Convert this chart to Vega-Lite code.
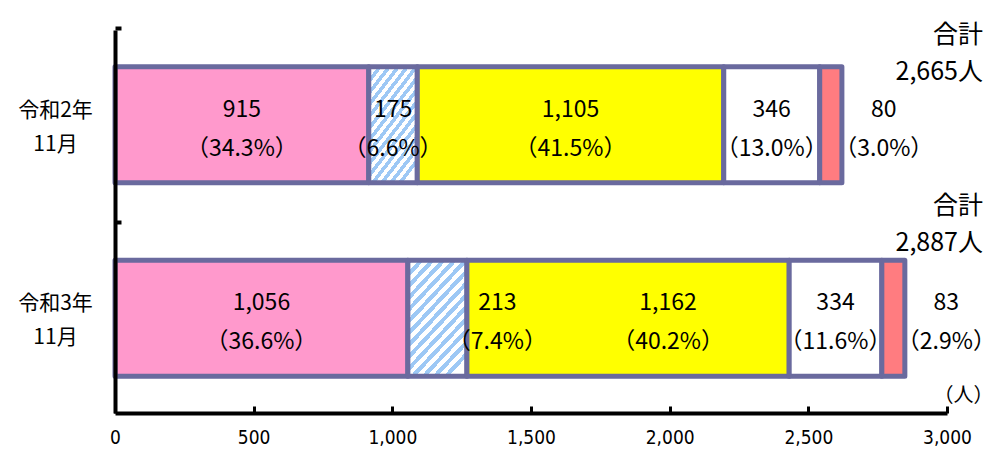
{
  "$schema": "https://vega.github.io/schema/vega-lite/v6.json",
  "autosize": {"type": "none"},
  "width": 832,
  "height": 383,
  "padding": {"left": 115, "top": 30, "right": 37, "bottom": 38},
  "background": "#ffffff",
  "config": {
    "view": {"stroke": null},
    "font": "Noto Sans CJK JP"
  },
  "datasets": {
    "seg": [
      {"row": "令和2年|11月", "cat": "a", "ord": 1, "v": 915, "pct": 34.3},
      {"row": "令和2年|11月", "cat": "b", "ord": 2, "v": 175, "pct": 6.6},
      {"row": "令和2年|11月", "cat": "c", "ord": 3, "v": 1105, "pct": 41.5},
      {"row": "令和2年|11月", "cat": "d", "ord": 4, "v": 346, "pct": 13.0},
      {"row": "令和2年|11月", "cat": "e", "ord": 5, "v": 80, "pct": 3.0},
      {"row": "令和3年|11月", "cat": "a", "ord": 1, "v": 1056, "pct": 36.6},
      {"row": "令和3年|11月", "cat": "b", "ord": 2, "v": 213, "pct": 7.4},
      {"row": "令和3年|11月", "cat": "c", "ord": 3, "v": 1162, "pct": 40.2},
      {"row": "令和3年|11月", "cat": "d", "ord": 4, "v": 334, "pct": 11.6},
      {"row": "令和3年|11月", "cat": "e", "ord": 5, "v": 83, "pct": 2.9}
    ],
    "tot": [
      {"row": "令和2年|11月", "total": 2665},
      {"row": "令和3年|11月", "total": 2887}
    ]
  },
  "layer": [
    {
      "data": {"name": "seg"},
      "transform": [
        {"stack": "v", "groupby": ["row"], "sort": [{"field": "ord"}], "as": ["x0", "x1"]}
      ],
      "mark": {"type": "bar", "stroke": "#6A6A9E", "strokeWidth": 5, "strokeJoin": "round"},
      "encoding": {
        "y": {
          "field": "row", "type": "nominal", "sort": null,
          "scale": {"paddingInner": 0.4, "paddingOuter": 0.19},
          "axis": {
            "title": null,
            "zindex": 1,
            "domainColor": "#000000", "domainWidth": 4,
            "tickColor": "#000000", "tickWidth": 4, "tickSize": -6, "tickBand": "center",
            "tickOffset": -96.5, "labelOffset": 82,
            "labelExpr": "split(datum.label, '|')",
            "labelFont": "Noto Sans CJK JP", "labelFontSize": 21, "labelColor": "#000000",
            "labelAlign": "center", "labelBaseline": "middle", "labelLineHeight": 34,
            "labelPadding": 66
          }
        },
        "x": {
          "field": "x0", "type": "quantitative",
          "scale": {"domain": [0, 3000], "nice": false, "zero": true},
          "axis": {
            "zindex": 1,
            "values": [0, 500, 1000, 1500, 2000, 2500, 3000],
            "format": ",d",
            "grid": false,
            "domainColor": "#000000", "domainWidth": 4,
            "tickColor": "#000000", "tickWidth": 3, "tickSize": -7,
            "labelFont": "Liberation Sans Narrow, DejaVu Sans Condensed, sans-serif",
            "labelFontSize": 19, "labelColor": "#000000", "labelPadding": 22,
            "labelFlush": false,
            "title": "（人）",
            "titleFont": "Noto Sans CJK JP", "titleFontSize": 20, "titleFontWeight": "normal",
            "titleColor": "#000000", "titleAlign": "left", "titleBaseline": "middle",
            "titleX": 818, "titleY": -18
          }
        },
        "x2": {"field": "x1"},
        "fill": {
          "condition": {
            "test": "datum.cat === 'b'",
            "value": {
              "gradient": "linear", "x1": 0, "y1": 0, "x2": 0.6, "y2": 1.1,
              "stops": [
                {"offset": 0, "color": "#9DC8F5"}, {"offset": 0.0357, "color": "#9DC8F5"}, {"offset": 0.0357, "color": "#ffffff"}, {"offset": 0.0714, "color": "#ffffff"},
                {"offset": 0.0714, "color": "#9DC8F5"}, {"offset": 0.1071, "color": "#9DC8F5"}, {"offset": 0.1071, "color": "#ffffff"}, {"offset": 0.1429, "color": "#ffffff"},
                {"offset": 0.1429, "color": "#9DC8F5"}, {"offset": 0.1786, "color": "#9DC8F5"}, {"offset": 0.1786, "color": "#ffffff"}, {"offset": 0.2143, "color": "#ffffff"},
                {"offset": 0.2143, "color": "#9DC8F5"}, {"offset": 0.25, "color": "#9DC8F5"}, {"offset": 0.25, "color": "#ffffff"}, {"offset": 0.2857, "color": "#ffffff"},
                {"offset": 0.2857, "color": "#9DC8F5"}, {"offset": 0.3214, "color": "#9DC8F5"}, {"offset": 0.3214, "color": "#ffffff"}, {"offset": 0.3571, "color": "#ffffff"},
                {"offset": 0.3571, "color": "#9DC8F5"}, {"offset": 0.3929, "color": "#9DC8F5"}, {"offset": 0.3929, "color": "#ffffff"}, {"offset": 0.4286, "color": "#ffffff"},
                {"offset": 0.4286, "color": "#9DC8F5"}, {"offset": 0.4643, "color": "#9DC8F5"}, {"offset": 0.4643, "color": "#ffffff"}, {"offset": 0.5, "color": "#ffffff"},
                {"offset": 0.5, "color": "#9DC8F5"}, {"offset": 0.5357, "color": "#9DC8F5"}, {"offset": 0.5357, "color": "#ffffff"}, {"offset": 0.5714, "color": "#ffffff"},
                {"offset": 0.5714, "color": "#9DC8F5"}, {"offset": 0.6071, "color": "#9DC8F5"}, {"offset": 0.6071, "color": "#ffffff"}, {"offset": 0.6429, "color": "#ffffff"},
                {"offset": 0.6429, "color": "#9DC8F5"}, {"offset": 0.6786, "color": "#9DC8F5"}, {"offset": 0.6786, "color": "#ffffff"}, {"offset": 0.7143, "color": "#ffffff"},
                {"offset": 0.7143, "color": "#9DC8F5"}, {"offset": 0.75, "color": "#9DC8F5"}, {"offset": 0.75, "color": "#ffffff"}, {"offset": 0.7857, "color": "#ffffff"},
                {"offset": 0.7857, "color": "#9DC8F5"}, {"offset": 0.8214, "color": "#9DC8F5"}, {"offset": 0.8214, "color": "#ffffff"}, {"offset": 0.8571, "color": "#ffffff"},
                {"offset": 0.8571, "color": "#9DC8F5"}, {"offset": 0.8929, "color": "#9DC8F5"}, {"offset": 0.8929, "color": "#ffffff"}, {"offset": 0.9286, "color": "#ffffff"},
                {"offset": 0.9286, "color": "#9DC8F5"}, {"offset": 0.9643, "color": "#9DC8F5"}, {"offset": 0.9643, "color": "#ffffff"}, {"offset": 1, "color": "#ffffff"}
              ]
            }
          },
          "field": "cat", "type": "nominal",
          "scale": {"domain": ["a", "b", "c", "d", "e"], "range": ["#FF99CC", "#FFFFFF", "#FFFF00", "#FFFFFF", "#FF7C80"]},
          "legend": null
        }
      }
    },
    {
      "data": {"name": "seg"},
      "transform": [
        {"stack": "v", "groupby": ["row"], "sort": [{"field": "ord"}], "as": ["x0", "x1"]},
        {"calculate": "(datum.x0 + datum.x1) / 2", "as": "mid"},
        {"calculate": "[format(datum.v, ','), '（' + format(datum.pct, '.1f') + '%）']", "as": "lbl"},
        {"filter": "datum.cat !== 'e' && !(datum.row === '令和3年|11月' && (datum.cat === 'b' || datum.cat === 'c'))"}
      ],
      "mark": {"type": "text", "font": "Noto Sans CJK JP", "fontSize": 23, "lineHeight": 39, "baseline": "middle", "align": "center", "dy": -15, "color": "#000000"},
      "encoding": {
        "y": {"field": "row", "type": "nominal", "sort": null},
        "x": {"field": "mid", "type": "quantitative"},
        "text": {"field": "lbl"}
      }
    },
    {
      "data": {"name": "seg"},
      "transform": [
        {"stack": "v", "groupby": ["row"], "sort": [{"field": "ord"}], "as": ["x0", "x1"]},
        {"calculate": "(datum.x0 + datum.x1) / 2", "as": "mid"},
        {"calculate": "[format(datum.v, ','), '（' + format(datum.pct, '.1f') + '%）']", "as": "lbl"},
        {"filter": "datum.cat === 'e'"}
      ],
      "mark": {"type": "text", "font": "Noto Sans CJK JP", "fontSize": 23, "lineHeight": 39, "baseline": "middle", "align": "center", "dy": -15, "dx": 53, "color": "#000000"},
      "encoding": {
        "y": {"field": "row", "type": "nominal", "sort": null},
        "x": {"field": "mid", "type": "quantitative"},
        "text": {"field": "lbl"}
      }
    },
    {
      "data": {"name": "seg"},
      "transform": [
        {"stack": "v", "groupby": ["row"], "sort": [{"field": "ord"}], "as": ["x0", "x1"]},
        {"calculate": "(datum.x0 + datum.x1) / 2", "as": "mid"},
        {"calculate": "[format(datum.v, ','), '（' + format(datum.pct, '.1f') + '%）']", "as": "lbl"},
        {"filter": "datum.row === '令和3年|11月' && datum.cat === 'b'"}
      ],
      "mark": {"type": "text", "font": "Noto Sans CJK JP", "fontSize": 23, "lineHeight": 39, "baseline": "middle", "align": "center", "dy": -15, "dx": 60, "color": "#000000"},
      "encoding": {
        "y": {"field": "row", "type": "nominal", "sort": null},
        "x": {"field": "mid", "type": "quantitative"},
        "text": {"field": "lbl"}
      }
    },
    {
      "data": {"name": "seg"},
      "transform": [
        {"stack": "v", "groupby": ["row"], "sort": [{"field": "ord"}], "as": ["x0", "x1"]},
        {"calculate": "(datum.x0 + datum.x1) / 2", "as": "mid"},
        {"calculate": "[format(datum.v, ','), '（' + format(datum.pct, '.1f') + '%）']", "as": "lbl"},
        {"filter": "datum.row === '令和3年|11月' && datum.cat === 'c'"}
      ],
      "mark": {"type": "text", "font": "Noto Sans CJK JP", "fontSize": 23, "lineHeight": 39, "baseline": "middle", "align": "center", "dy": -15, "dx": 40, "color": "#000000"},
      "encoding": {
        "y": {"field": "row", "type": "nominal", "sort": null},
        "x": {"field": "mid", "type": "quantitative"},
        "text": {"field": "lbl"}
      }
    },
    {
      "data": {"name": "tot"},
      "transform": [
        {"calculate": "['合計', format(datum.total, ',') + '人']", "as": "lbl"},
        {"filter": "datum.row === '令和2年|11月'"}
      ],
      "mark": {"type": "text", "font": "Noto Sans CJK JP", "fontSize": 25, "lineHeight": 37, "baseline": "middle", "align": "right", "dx": 36, "dy": -32, "color": "#000000"},
      "encoding": {
        "y": {"field": "row", "type": "nominal", "sort": null, "bandPosition": 0},
        "x": {"datum": 3000, "type": "quantitative"},
        "text": {"field": "lbl"}
      }
    },
    {
      "data": {"name": "tot"},
      "transform": [
        {"calculate": "['合計', format(datum.total, ',') + '人']", "as": "lbl"},
        {"filter": "datum.row === '令和3年|11月'"}
      ],
      "mark": {"type": "text", "font": "Noto Sans CJK JP", "fontSize": 25, "lineHeight": 37, "baseline": "middle", "align": "right", "dx": 36, "dy": -54, "color": "#000000"},
      "encoding": {
        "y": {"field": "row", "type": "nominal", "sort": null, "bandPosition": 0},
        "x": {"datum": 3000, "type": "quantitative"},
        "text": {"field": "lbl"}
      }
    }
  ]
}
